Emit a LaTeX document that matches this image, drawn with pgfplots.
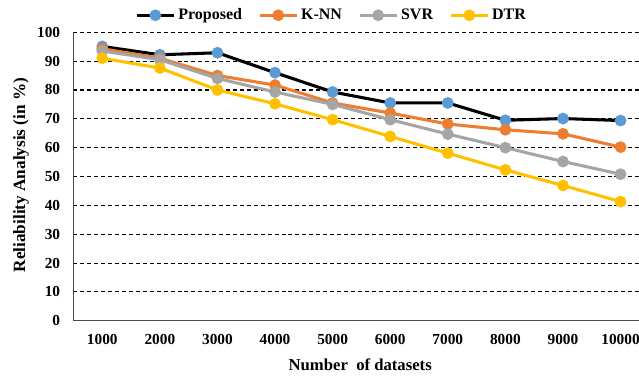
\documentclass[border=0pt]{standalone}
\usepackage{pgfplots}
\pgfplotsset{compat=1.18}
\usepackage{fontspec}
\setmainfont{Liberation Serif}
\definecolor{pblue}{HTML}{5B9BD5}
\definecolor{korange}{HTML}{ED7D31}
\definecolor{sgray}{HTML}{A5A5A5}
\definecolor{dgold}{HTML}{FFC000}
\begin{document}
\begin{tikzpicture}
\begin{axis}[
  scale only axis, width=424pt, height=216.3pt,
  xmin=0.5, xmax=10.32, ymin=0, ymax=100,
  xtick={1,...,10},
  xticklabels={1000,2000,3000,4000,5000,6000,7000,8000,9000,10000},
  ytick={0,10,...,100},
  axis lines=left,
  axis line style={-, draw=black!70, line width=1pt},
  ymajorgrids,
  grid style={black, line width=0.8pt, dash pattern=on 3pt off 2.2pt},
  major tick length=0pt,
  tick label style={font=\bfseries\fontsize{11.5}{13}\selectfont},
  /pgf/number format/assume math mode=true,
  xticklabel style={yshift=-6.5pt},
  yticklabel style={xshift=-6.5pt},
  xlabel={\bfseries Number\ \ of datasets},
  ylabel={\bfseries Reliability Analysis (in \%)},
  label style={font=\bfseries\fontsize{12.5}{14}\selectfont},
  xlabel style={at={(axis description cs:0.507,-0.151)}, anchor=center},
  ylabel style={at={(axis description cs:-0.093,0.505)}, anchor=center,
    font=\bfseries\fontsize{12.9}{14}\selectfont},
  legend columns=4,
  legend style={draw=none, fill=none, at={(0.457,1.059)}, anchor=center,
    font=\bfseries\fontsize{12}{14}\selectfont,
    /tikz/every even column/.append style={column sep=10pt}},
  legend image code/.code={
    \draw[#1, mark=none] (0pt,0pt) -- (28pt,0pt);
    \draw[#1, only marks] plot coordinates {(14pt,0pt)};
  },
  clip=false,
  every axis plot/.append style={line width=2.3pt, mark=*, mark size=3.2pt},
]
\addplot[black, mark options={fill=pblue, draw=pblue}] coordinates {
 (1,95.1) (2,92.2) (3,92.9) (4,86) (5,79.3) (6,75.5) (7,75.5) (8,69.5) (9,70.1) (10,69.4)};
\addlegendentry{Proposed}
\addplot[korange, mark options={fill=korange, draw=korange}] coordinates {
 (1,94.3) (2,91) (3,85) (4,81.7) (5,75.5) (6,72) (7,68.2) (8,66.2) (9,64.8) (10,60.2)};
\addlegendentry{K-NN}
\addplot[sgray, mark options={fill=sgray, draw=sgray}] coordinates {
 (1,93.5) (2,90.5) (3,84) (4,79.3) (5,75) (6,69.7) (7,64.7) (8,60) (9,55.2) (10,50.8)};
\addlegendentry{SVR}
\addplot[dgold, mark options={fill=dgold, draw=dgold}] coordinates {
 (1,91) (2,87.6) (3,80) (4,75.2) (5,69.7) (6,63.9) (7,58.1) (8,52.3) (9,46.9) (10,41.3)};
\addlegendentry{DTR}
\end{axis}
\pgfresetboundingbox
\useasboundingbox ([shift={(-55.1pt,-40.7pt)}]current axis.south west) rectangle ([shift={(0pt,24.2pt)}]current axis.north east);
\end{tikzpicture}
\end{document}
